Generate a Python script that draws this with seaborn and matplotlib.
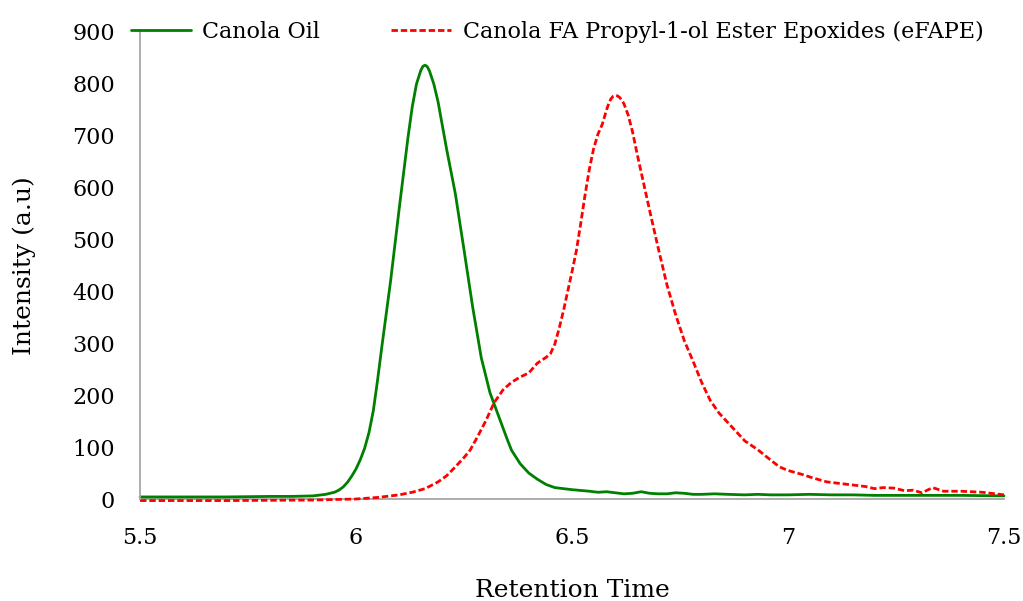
import matplotlib
matplotlib.use("Agg")
import matplotlib.pyplot as plt
import seaborn as sns
import pandas as pd

# Canola oil chromatogram
oil_time = [5.50, 5.60, 5.70, 5.80, 5.85, 5.90, 5.93, 5.95, 5.96, 5.97, 5.98, 5.99,
            6.00, 6.01, 6.02, 6.03, 6.04, 6.05, 6.06, 6.08, 6.10, 6.12, 6.13, 6.14,
            6.15, 6.155, 6.16, 6.165, 6.17, 6.18, 6.19, 6.21, 6.23, 6.25, 6.27, 6.29,
            6.31, 6.33, 6.35, 6.36, 6.38, 6.40, 6.42, 6.44, 6.46, 6.50, 6.54, 6.56,
            6.58, 6.60, 6.62, 6.64, 6.66, 6.68, 6.70, 6.72, 6.74, 6.76, 6.78, 6.80,
            6.83, 6.86, 6.90, 6.93, 6.96, 7.00, 7.05, 7.10, 7.15, 7.20, 7.30, 7.40,
            7.50]
oil_intensity = [4, 4, 4, 5, 5, 6, 9, 13, 17, 23, 32, 44,
                 58, 76, 98, 128, 170, 230, 295, 420, 560, 695, 755, 800,
                 826, 834, 836, 833, 825, 800, 765, 673, 588, 480, 370, 272,
                 205, 160, 115, 94, 68, 50, 38, 28, 22, 18, 15, 13,
                 14, 12, 10, 11, 14, 11, 10, 10, 12, 11, 9, 9,
                 10, 9, 8, 9, 8, 8, 9, 8, 8, 7, 7, 7,
                 6]

# Epoxidised propyl ester chromatogram
efape_time = [5.50, 5.70, 5.90, 5.95, 6.00, 6.05, 6.10, 6.13, 6.16, 6.19, 6.21, 6.23,
              6.25, 6.264, 6.28, 6.30, 6.32, 6.34, 6.36, 6.38, 6.40, 6.42, 6.44, 6.45,
              6.46, 6.47, 6.48, 6.49, 6.50, 6.51, 6.52, 6.53, 6.54, 6.55, 6.56, 6.57,
              6.58, 6.585, 6.59, 6.595, 6.60, 6.605, 6.61, 6.615, 6.62, 6.63, 6.64, 6.65,
              6.66, 6.68, 6.70, 6.72, 6.74, 6.76, 6.78, 6.80, 6.82, 6.84, 6.86, 6.88,
              6.90, 6.93, 6.96, 6.98, 7.00, 7.03, 7.06, 7.09, 7.12, 7.15, 7.18, 7.20,
              7.22, 7.245, 7.27, 7.29, 7.31, 7.335, 7.36, 7.40, 7.45, 7.50]
efape_intensity = [-3, -3, -2, -1, 0, 3, 8, 13, 20, 33, 45, 62,
                   80, 94, 118, 150, 186, 210, 225, 235, 243, 262, 273, 280,
                   298, 328, 362, 400, 438, 478, 530, 585, 635, 675, 703, 722,
                   750, 762, 771, 776, 778, 777, 774, 769, 762, 740, 708, 668,
                   630, 555, 482, 412, 355, 305, 266, 225, 190, 166, 148, 130,
                   112, 95, 75, 62, 55, 48, 40, 33, 30, 27, 24, 20,
                   22, 21, 16, 17, 12, 22, 15, 15, 13, 8]

x_ticks = [5.5, 6, 6.5, 7, 7.5]
x_tick_labels = ["5.5", "6", "6.5", "7", "7.5"]
y_ticks = [0, 100, 200, 300, 400, 500, 600, 700, 800, 900]

oil_df = pd.DataFrame({"time": oil_time, "intensity": oil_intensity})
efape_df = pd.DataFrame({"time": efape_time, "intensity": efape_intensity})

sns.set_theme(style="white")
plt.rcParams["font.family"] = ["DejaVu Serif"]
plt.rcParams["text.color"] = "black"
plt.rcParams["axes.labelcolor"] = "black"

fig = plt.figure(figsize=(10.23, 6.01), dpi=100)
ax = fig.add_axes([0.1369, 0.1697, 0.8445, 0.7771])

sns.lineplot(data=oil_df, x="time", y="intensity", ax=ax, color="#008000",
             linewidth=2.0, label="Canola Oil", clip_on=False)
sns.lineplot(data=efape_df, x="time", y="intensity", ax=ax, color="#FF0000",
             linewidth=2.0, label="Canola FA Propyl-1-ol Ester Epoxides (eFAPE)",
             clip_on=False)
ax.lines[1].set_dashes([2.3, 1.05])

ax.set_xlim(5.5, 7.5)
ax.set_ylim(0, 900)
ax.set_xticks(x_ticks)
ax.set_xticklabels(x_tick_labels)
ax.set_yticks(y_ticks)
ax.tick_params(axis="both", labelsize=16, length=0, colors="black")
ax.tick_params(axis="x", pad=20)
ax.tick_params(axis="y", pad=18)

for side in ["top", "right"]:
    ax.spines[side].set_visible(False)
for side in ["left", "bottom"]:
    ax.spines[side].set_color("#A6A6A6")
    ax.spines[side].set_linewidth(1.3)
ax.spines["bottom"].set_zorder(0)

ax.set_xlabel("Retention Time", fontsize=18, labelpad=22)
ax.set_ylabel("Intensity (a.u)", fontsize=18, labelpad=26)

leg = ax.legend(loc="center", bbox_to_anchor=(0.483, 1.0), ncol=2, frameon=False,
                fontsize=16, handlelength=2.7, columnspacing=3.2, handletextpad=0.5)
for t in leg.get_texts():
    t.set_color("black")

fig.savefig("out.png", dpi=100, facecolor="white")
